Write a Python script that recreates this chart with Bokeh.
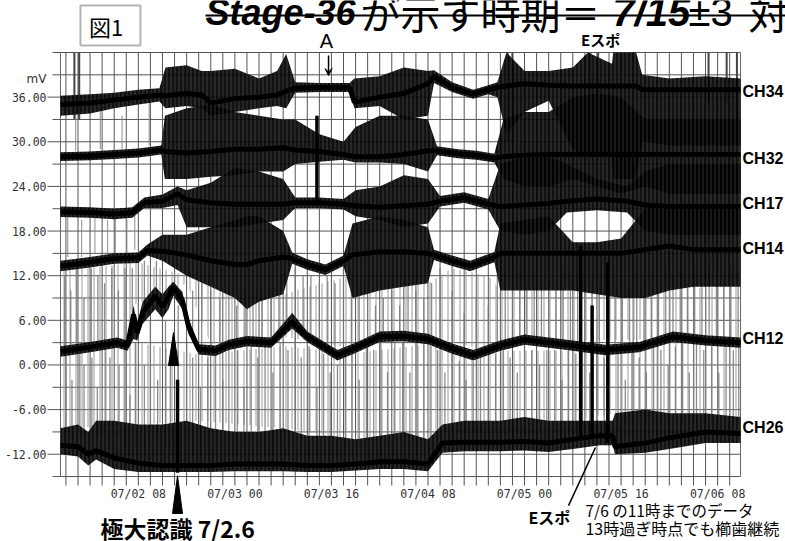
from bokeh.plotting import figure
from bokeh.models import Range1d, Arrow, VeeHead
from bokeh.core.properties import value
from bokeh.embed import file_html
from bokeh.resources import INLINE

# ---------------- data (hours since 07/01 00:00, mV) ----------------
x_tick_hours = [32, 48, 64, 80, 96, 112, 128]
x_tick_labels = ["07/02 08", "07/03 00", "07/03 16", "07/04 08", "07/05 00", "07/05 16", "07/06 08"]
y_tick_values = [-12, -6, 0, 6, 12, 18, 24, 30, 36]
y_tick_labels = ["-12.00", "-6.00", "0.00", "6.00", "12.00", "18.00", "24.00", "30.00", "36.00"]
grid_hours = list(range(20, 132, 2))
grid_mv = list(range(-15, 43, 3))
X0, X1, Y0, Y1 = 19.1, 131.8, -15.0, 42.0          # plotted time / voltage span

t34 = [19.1, 24, 28, 32, 35.5, 36.5, 40, 42.5, 44, 48, 52, 55, 56.5, 58, 62, 67, 67.8, 72, 76, 80, 81, 84, 87.5, 90, 91.5, 93, 96, 100, 104, 106.5, 110.5, 110.7, 114.5, 115.5, 120, 126, 131.8]
b34 = [35.0, 35.2, 35.6, 36.0, 36.3, 36.2, 36.5, 36.3, 35.2, 35.8, 36.0, 36.3, 36.8, 37.2, 37.3, 37.3, 35.3, 36.0, 36.5, 37.8, 38.8, 37.3, 36.4, 37.0, 37.3, 37.5, 37.8, 37.6, 37.5, 37.5, 37.5, 37.5, 37.5, 37.0, 37.0, 37.0, 37.0]
lo34 = [33.5, 33.8, 34.5, 35.0, 35.4, 34.5, 34.8, 34.5, 33.5, 34.0, 34.5, 34.8, 34.5, 36.6, 36.7, 36.7, 34.5, 34.8, 33.0, 33.5, 37.9, 36.7, 35.8, 36.4, 36.0, 31.0, 34.0, 35.5, 29.0, 28.0, 28.0, 25.0, 25.0, 30.0, 29.5, 29.5, 29.5]
hi34 = [36.2, 36.4, 36.6, 37.0, 37.2, 40.0, 40.3, 39.5, 39.5, 39.8, 38.5, 39.5, 41.8, 38.0, 37.9, 37.9, 38.5, 38.8, 40.0, 39.5, 39.6, 38.0, 37.0, 37.6, 38.0, 42.0, 39.5, 39.5, 40.0, 42.0, 40.5, 42.0, 42.0, 39.0, 38.5, 38.8, 38.5]

t32 = [19.1, 24, 28, 32, 35.8, 36.4, 40, 44, 48, 52, 56, 58, 62, 66, 68, 72, 76, 80, 81.5, 85, 88, 91, 92.5, 96, 100, 104, 108, 112, 116, 120, 126, 131.8]
b32 = [28.0, 28.1, 28.3, 28.5, 28.9, 28.7, 28.5, 28.7, 29.0, 29.0, 29.2, 28.9, 28.7, 28.3, 28.0, 28.0, 28.3, 28.8, 28.8, 28.4, 28.2, 27.8, 28.0, 28.2, 28.3, 28.3, 28.3, 28.3, 28.3, 28.3, 28.3, 28.3]
lo32 = [27.4, 27.5, 27.7, 27.9, 28.3, 25.0, 25.0, 25.3, 25.5, 26.0, 26.0, 27.0, 27.3, 27.6, 27.2, 27.2, 27.0, 26.0, 28.2, 27.8, 27.6, 27.2, 25.0, 24.0, 24.0, 25.0, 24.0, 23.0, 24.0, 23.0, 23.0, 23.0]
hi32 = [28.6, 28.7, 28.9, 29.1, 29.5, 33.5, 34.5, 35.0, 34.0, 33.5, 33.0, 33.0, 31.0, 30.0, 32.0, 33.5, 33.5, 33.0, 29.4, 29.0, 28.8, 28.4, 33.0, 34.0, 34.0, 36.0, 36.5, 36.0, 33.0, 33.0, 33.0, 33.0]

t17 = [19.1, 24, 28, 31, 33, 36, 38.5, 40, 44, 48, 52, 56, 58, 62, 66, 68, 72, 76, 80, 82, 86, 90, 92, 96, 100, 103, 108, 113, 116, 120, 126, 131.8]
b17 = [20.6, 20.5, 20.3, 20.5, 21.8, 22.0, 23.0, 22.2, 21.8, 21.6, 21.6, 21.6, 21.8, 21.8, 21.6, 21.4, 21.2, 21.4, 21.6, 22.0, 22.5, 21.6, 21.3, 21.5, 21.7, 22.0, 22.3, 22.0, 21.5, 21.3, 21.3, 21.3]
lo17 = [19.9, 19.8, 19.6, 19.8, 21.1, 21.1, 21.5, 18.5, 18.5, 18.5, 19.0, 19.5, 21.1, 21.1, 20.9, 20.0, 19.5, 18.5, 19.0, 21.3, 21.8, 20.9, 18.0, 17.5, 18.0, 20.5, 20.8, 20.5, 18.0, 17.5, 17.5, 17.5]
hi17 = [21.3, 21.2, 21.0, 21.2, 22.5, 22.9, 24.0, 23.5, 24.5, 26.5, 26.0, 25.0, 22.5, 22.5, 22.3, 23.5, 24.0, 25.5, 25.0, 22.7, 23.2, 22.3, 27.0, 28.0, 28.0, 27.0, 25.0, 24.0, 26.0, 27.0, 27.0, 27.0]

t14 = [19.1, 24, 28, 32, 33.5, 36, 40, 44, 48, 50, 52, 56, 57.5, 60, 63, 66, 67.5, 72, 76, 80, 81, 84, 87, 91, 92, 96, 100, 104, 108, 112, 116, 120, 124, 131.8]
b14 = [13.3, 13.8, 14.3, 14.4, 15.4, 15.3, 14.8, 14.0, 13.5, 13.5, 14.0, 14.5, 14.3, 13.5, 12.8, 14.0, 14.8, 15.2, 15.2, 15.0, 14.8, 14.0, 13.3, 14.5, 15.0, 15.0, 15.0, 15.0, 15.0, 15.0, 15.5, 16.0, 15.5, 15.5]
lo14 = [12.6, 13.1, 13.6, 13.7, 14.7, 14.0, 12.0, 10.5, 9.0, 7.5, 8.5, 9.5, 13.6, 12.8, 12.1, 13.3, 9.0, 10.0, 10.5, 11.0, 14.1, 13.3, 12.6, 13.8, 10.0, 10.0, 10.0, 10.0, 9.5, 9.0, 9.0, 10.0, 10.5, 10.5]
hi14 = [14.0, 14.5, 15.0, 15.1, 16.2, 17.5, 17.5, 18.5, 19.5, 20.0, 20.0, 18.0, 15.1, 14.2, 13.5, 14.7, 19.0, 20.0, 19.5, 18.5, 15.5, 14.7, 14.0, 15.2, 19.0, 19.5, 20.0, 16.5, 16.5, 17.0, 21.0, 21.0, 21.0, 21.0]

t12 = [19.1, 24, 28.5, 30.2, 31.2, 31.8, 32.7, 34.8, 36.0, 37.0, 37.8, 39.3, 40.3, 42, 44.8, 47, 50, 54, 57.5, 60, 65, 68, 72, 76, 80, 84, 87.5, 92, 96, 100, 104, 109.4, 115, 120.6, 126, 131.8]
b12 = [1.8, 2.4, 3.0, 2.6, 6.8, 4.3, 7.0, 9.3, 7.8, 9.2, 10.5, 8.7, 5.2, 2.1, 1.9, 2.7, 3.2, 3.0, 5.8, 3.8, 1.3, 2.3, 3.8, 3.9, 3.5, 2.2, 1.3, 2.6, 3.4, 3.0, 2.6, 2.0, 2.4, 3.8, 3.3, 3.0]
lo12 = [1.1, 1.7, 2.3, 1.9, 3.5, 3.3, 5.5, 7.5, 6.3, 7.5, 9.3, 7.5, 4.2, 1.4, 1.2, 2.0, 2.5, 2.3, 4.9, 3.1, 0.6, 1.6, 3.1, 3.2, 2.8, 1.5, 0.6, 1.9, 2.7, 2.3, 1.9, 1.3, 1.7, 3.1, 2.6, 2.3]
hi12 = [2.5, 3.1, 3.7, 3.3, 8.0, 5.5, 8.5, 10.5, 9.5, 10.5, 11.2, 9.8, 6.3, 2.8, 2.6, 3.4, 3.9, 3.7, 7.0, 4.5, 2.0, 3.0, 4.5, 4.6, 4.2, 2.9, 2.0, 3.3, 4.1, 3.7, 3.3, 2.7, 3.1, 4.5, 4.0, 3.7]

t26 = [19.1, 22, 23.7, 25, 28, 32, 36, 40, 44, 48, 52, 56, 60, 64, 68, 72, 76, 80, 82.4, 86, 92, 96, 100, 104, 108.5, 110.6, 111, 116, 120, 126, 131.8]
b26 = [-10.8, -11.0, -12.0, -11.5, -12.5, -13.2, -13.5, -13.5, -13.5, -13.3, -13.3, -13.3, -13.5, -13.5, -13.3, -13.0, -13.0, -13.3, -10.5, -10.4, -10.4, -10.3, -10.5, -10.0, -9.5, -9.5, -11.0, -10.5, -9.8, -9.0, -9.2]
lo26 = [-12.0, -12.3, -13.5, -12.7, -14.0, -14.4, -14.4, -14.4, -14.4, -14.3, -14.3, -14.3, -14.4, -14.4, -14.2, -14.0, -14.0, -14.3, -11.8, -11.6, -11.6, -11.5, -11.7, -11.3, -10.8, -10.8, -12.0, -11.8, -11.3, -10.5, -10.5]
hi26 = [-8.5, -8.0, -9.0, -7.5, -7.5, -8.0, -8.0, -7.5, -8.5, -9.0, -9.0, -8.5, -9.5, -9.5, -10.0, -9.5, -9.0, -10.0, -8.0, -7.5, -7.5, -7.0, -7.5, -7.5, -7.5, -7.5, -6.5, -6.0, -6.5, -6.5, -7.0]

# comb-tooth zones (dense thin gray strokes)
comb1_t = [19.1, 32, 42, 56, 68, 80, 82.4, 92, 104, 111, 120, 131.8]
comb1_lo = [-8.5, -8.0, -7.5, -8.5, -10.0, -10.0, -8.0, -7.5, -7.5, -6.5, -6.5, -7.0]
comb1_hi = [1.1, 3.0, 1.4, 2.5, 1.6, 2.8, 2.5, 1.9, 1.9, 1.7, 3.1, 2.3]
comb2_t = [19.1, 30, 31, 40, 44, 56, 67, 80, 84, 90, 92, 104, 131.8]
comb2_lo = [2.5, 3.3, 8.0, 11.0, 2.8, 3.8, 2.3, 4.2, 3.0, 2.0, 3.3, 3.3, 3.7]
comb2_hi = [12.6, 13.6, 14.0, 12.0, 10.5, 9.5, 12.0, 11.0, 13.0, 12.0, 10.0, 10.0, 10.5]

# individual thin gray spikes
low_t = [20.0, 21.0, 22.3, 23.0, 24.3, 25.2, 26.5, 27.3, 28.8, 29.8, 30.6, 31.5, 33.0, 34.0, 35.2, 36.5, 37.3, 38.6, 40.0, 41.0, 42.3, 43.5, 44.8, 46.0, 47.0, 48.4, 49.5, 50.7, 51.8, 53.0, 54.3, 55.5, 56.8, 58.0, 59.0, 60.3, 61.6, 62.7, 63.8, 65.0, 66.3, 67.4, 68.6, 69.8, 71.0, 72.2, 73.3, 74.5, 75.8, 77.0, 78.2, 79.3, 80.5, 81.6, 82.8, 84.0, 85.2, 86.3, 87.5, 88.7, 90.0, 91.2, 92.5, 93.6, 94.8, 96.0, 97.2, 98.5, 99.7, 101.0, 102.2, 103.3, 104.5, 105.6, 106.8, 108.0, 109.2, 111.5, 112.7, 113.8, 115.0, 116.2, 117.4, 118.6, 119.8, 121.0, 122.2, 123.3, 124.5, 125.7, 127.0, 128.2, 129.4, 130.6, 131.5]
low_lo = [-9, -10, -9, -10, -9, -10, -9, -11, -10, -11, -12, -11, -12, -11, -12, -11, -12, -11, -12, -12, -12, -12, -12, -12, -12, -12, -12, -12, -12, -12, -12, -12, -12, -12, -12, -12, -12, -12, -12, -12, -12, -12, -12, -12, -12, -12, -12, -12, -12, -12, -12, -12, -12, -10, -9, -9, -9, -9, -9, -9, -9, -9, -9, -9, -9, -9, -9, -9, -9, -9, -9, -9, -9, -9, -9, -9, -9, -9, -8, -8, -8, -8, -8, -8, -8, -8, -8, -8, -8, -8, -8, -8, -8, -8, -8]
low_hi = [1.5, -2, 2, 0, 1, -3, 2.5, 1, 0, 2.5, -4, 3, 0, 6, -2, 6, 1, 8, 3, 1, -3, 1, 1.5, -2, 2, 2, -3, 2.5, 1, 2.5, -1, 3, 2, 5, 1, 2.5, -3, 1.5, -1, 0, 1.5, 2.5, -2, 2.5, 2, 3, -1, 3, 3, -1, 3, 3, 2.5, 2, -1, 1.5, 0.5, -2, 0.5, 1, -3, 1.5, 2, 1, -1, 2.5, 2, 0, 2, 2, -2, 2, 1.5, 2, -1, 1.5, 1, 1.5, -2, 2, 1, -1, 2.5, 2, 0, 2.5, 3, -1, 3, 2, 2.5, -1, 2.5, 2, 3]
up_t = [19.8, 20.8, 21.8, 23.0, 24.2, 25.3, 26.4, 27.6, 28.7, 29.8, 31.0, 33.0, 35.0, 38.0, 41.0, 42.5, 44.0, 45.5, 47.0, 48.3, 49.7, 51.0, 52.5, 54.0, 55.3, 56.6, 58.0, 59.3, 60.6, 62.0, 63.3, 64.6, 66.0, 67.3, 68.6, 70.0, 71.3, 72.6, 74.0, 75.3, 76.7, 78.0, 79.3, 80.6, 82.0, 84.0, 86.0, 88.0, 90.0, 91.5, 92.8, 94.0, 95.2, 96.4, 97.6, 98.8, 100.0, 101.2, 102.4, 103.6, 104.8, 106.0, 107.2, 108.4, 109.6, 111.0, 112.2, 113.4, 114.6, 115.8, 117.0, 118.2, 119.4, 120.6, 121.8, 123.0, 124.2, 125.4, 126.6, 127.8, 129.0, 130.2, 131.4]
up_lo = [2, 2, 2, 2, 2, 2, 3, 3, 3, 3, 5, 8, 9, 10, 3, 2, 2, 2, 3, 3, 3, 3, 3, 3, 3, 5, 5, 4, 3, 2, 1.5, 1.5, 2, 2, 2, 3, 3, 4, 4, 4, 4, 4, 3, 3, 3, 2, 1.5, 1.5, 2, 2, 3, 3, 3, 3, 3, 3, 3, 3, 3, 3, 3, 2, 2, 2, 2, 2, 2, 2, 2, 2, 3, 3, 3, 4, 4, 4, 4, 4, 4, 3, 3, 3, 3]
up_hi = [12, 10, 13, 9, 13, 12, 11, 13, 10, 13, 13, 14, 14, 13, 10, 12, 10, 9, 10, 8, 9, 8, 9, 10, 11, 12, 13, 12, 12, 11, 12, 11, 13, 13, 10, 9, 8, 9, 10, 8, 11, 10, 9, 11, 13, 10, 7, 9, 8, 12, 13, 12, 13, 12, 13, 12, 13, 11, 13, 12, 11, 13, 12, 13, 12, 13, 12, 11, 13, 12, 13, 11, 13, 12, 13, 11, 13, 12, 13, 11, 12, 13, 12]
# a few strokes in the upper, quieter part of the left side
mid_t = [20.3, 22.6, 24.8, 26.9, 28.2, 30.1, 31.4, 21.6, 25.7, 29.3, 33.8]
mid_lo = [14.5, 14.5, 15.0, 15.0, 15.0, 15.0, 15.5, 28.8, 29.0, 29.0, 29.5]
mid_hi = [20.0, 19.5, 20.0, 19.5, 20.0, 19.5, 21.0, 34.0, 34.5, 33.5, 35.5]

# strong black strokes (Eスポ and single spikes)
blk_t = [38.5, 61.6, 105.3, 107.2, 109.8]
blk_lo = [-14.5, 22.0, -9.6, -9.6, -10.5]
blk_hi = [-2.0, 33.5, 16.0, 8.0, 13.8]
top_t = [21.4, 22.2, 93.2, 94.0, 106.9, 108.2, 126.5, 129.5, 131.2]
top_lo = [33.0, 33.0, 30.0, 30.0, 32.0, 32.0, 35.0, 35.0, 33.0]
top_hi = [42.0, 42.0, 42.0, 42.0, 42.0, 42.0, 42.0, 42.0, 42.0]

channels = [("CH34", t34, b34, lo34, hi34, 36.8), ("CH32", t32, b32, lo32, hi32, 27.75),
            ("CH17", t17, b17, lo17, hi17, 21.66), ("CH14", t14, b14, lo14, hi14, 15.6),
            ("CH12", t12, b12, lo12, hi12, 3.49), ("CH26", t26, b26, lo26, hi26, -8.34)]

# ---------------- figure (frame = whole canvas so that notes outside the chart show) ----------------
p = figure(width=785, height=541, x_range=Range1d(9.156, 139.25), y_range=Range1d(-23.73, 48.99),
           output_backend="svg", toolbar_location=None, min_border=0)
p.axis.visible = False
p.grid.visible = False
p.outline_line_color = None
p.background_fill_color = "white"
p.border_fill_color = "white"

px_h = (X1 - X0) / 680.0     # hours per pixel
px_v = (Y1 - Y0) / 424.0     # mV per pixel

# grid + frame
major_set = set(y_tick_values)
gy_major = [v for v in grid_mv if v in major_set]
gy_minor = [v for v in grid_mv if v not in major_set]
p.segment(x0=[X0 - 13 * px_h] * len(gy_major), y0=gy_major, x1=[X1] * len(gy_major), y1=gy_major,
          line_color="#555555", line_width=1)
p.segment(x0=[X0 - 8 * px_h] * len(gy_minor), y0=gy_minor, x1=[X1] * len(gy_minor), y1=gy_minor,
          line_color="#555555", line_width=1)
p.segment(x0=grid_hours, y0=[Y0 - 9 * px_v] * len(grid_hours), x1=grid_hours, y1=[Y1] * len(grid_hours),
          line_color="#555555", line_width=1)
p.segment(x0=[X0, X1], y0=[Y0, Y0], x1=[X0, X1], y1=[Y1, Y1], line_color="#666666", line_width=1)

# axis labels
p.text(x=[X0 - 14 * px_h] * len(y_tick_values), y=y_tick_values, text=y_tick_labels,
       text_font=value("DejaVu Sans Mono"), text_font_size="11.5px", text_color="#333333",
       text_align="right", text_baseline="middle")
p.text(x=x_tick_hours, y=[Y0 - 17 * px_v] * len(x_tick_hours), text=x_tick_labels,
       text_font=value("DejaVu Sans Mono"), text_font_size="11.5px", text_color="#333333",
       text_align="center", text_baseline="middle")

# comb zones + spikes
for ct, clo, chi in ((comb1_t, comb1_lo, comb1_hi), (comb2_t, comb2_lo, comb2_hi)):
    p.varea(x=ct, y1=clo, y2=chi, fill_alpha=0.0, hatch_pattern="vertical_line",
            hatch_color="#9a9a9a", hatch_scale=6, hatch_weight=1.0)
p.segment(x0=low_t, y0=low_lo, x1=low_t, y1=low_hi, line_color="#777777", line_width=1.3, line_alpha=0.85)
p.segment(x0=up_t, y0=up_lo, x1=up_t, y1=up_hi, line_color="#777777", line_width=1.3, line_alpha=0.85)
p.segment(x0=mid_t, y0=mid_lo, x1=mid_t, y1=mid_hi, line_color="#888888", line_width=1.2, line_alpha=0.8)
p.segment(x0=top_t, y0=top_lo, x1=top_t, y1=top_hi, line_color="#444444", line_width=2)

# channel traces
for name, t, b, lo, hi, ly in channels:
    p.varea(x=t, y1=lo, y2=hi, fill_color="black", fill_alpha=0.93, hatch_pattern="vertical_line",
            hatch_color="white", hatch_alpha=0.18, hatch_scale=4, hatch_weight=1.0)
    p.line(t, b, line_color="black", line_width=5)

p.segment(x0=blk_t, y0=blk_lo, x1=blk_t, y1=blk_hi, line_color="black", line_width=3.5)

# maximum markers
p.patch([37.0, 37.83, 38.66], [-0.08, 4.36, -0.08], fill_color="black", line_color="black")
p.patch([37.66, 38.49, 39.32], [-19.97, -14.9, -19.97], fill_color="black", line_color="black")


def txt(s, x, y, size, style="normal", font="Noto Sans CJK JP", align="left",
        baseline="middle", color="black"):
    p.text(x=[x], y=[y], text=[s], text_font=value(font), text_font_size=f"{size}px",
           text_font_style=style, text_align=align, text_baseline=baseline, text_color=color)


for name, t, b, lo, hi, ly in channels:
    txt(name, 132.13, ly, 16, style="bold", font="Liberation Sans")

txt("mV", X0 - 14 * px_h, 38.44, 12, font="DejaVu Sans", color="#333333", align="right")

# title (its top is cut by the page edge in the original)
txt("Stage-36", 43.13, 47.38, 36, style="bold italic", font="Liberation Sans", baseline="alphabetic")
txt("が示す時期＝", 68.82, 47.38, 40, baseline="alphabetic")
txt("7/15", 110.58, 47.38, 40, style="bold italic", font="Liberation Sans", baseline="alphabetic")
txt("±3", 123.18, 47.38, 40, font="Liberation Sans", baseline="alphabetic")
txt("対応", 133.12, 47.38, 40, baseline="alphabetic")
p.quad(left=[43.13], right=[139.25], bottom=[46.84], top=[47.11], fill_color="black", line_color=None)

# 図1 box
p.quad(left=[22.41], right=[32.35], bottom=[42.94], top=[48.32], fill_alpha=0,
       line_color="#b4b4b4", line_width=2)
txt("図1", 26.64, 45.5, 22, align="center")

# A marker and top Eスポ
txt("A", 63.18, 43.6, 20, font="Liberation Sans", align="center")
p.add_layout(Arrow(x_start=63.52, y_start=41.6, x_end=63.52, y_end=38.9, line_width=1.5,
                   end=VeeHead(size=7, fill_color="black", line_color="black")))
txt("Eスポ", 108.6, 43.75, 15, style="bold", align="center")

# bottom notes
txt("極大認識 7/2.6", 25.73, -21.85, 23, style="bold")
txt("Eスポ", 96.66, -20.37, 16, style="bold")
p.segment(x0=[103.29], y0=[-18.9], x1=[107.76], y1=[-11.1], line_color="black", line_width=1.5)
txt("7/6 の11時までのデータ", 106.1, -19.43, 15.5)
txt("13時過ぎ時点でも櫛歯継続", 106.1, -21.92, 16)

open("out.html", "w").write(file_html(p, INLINE))
